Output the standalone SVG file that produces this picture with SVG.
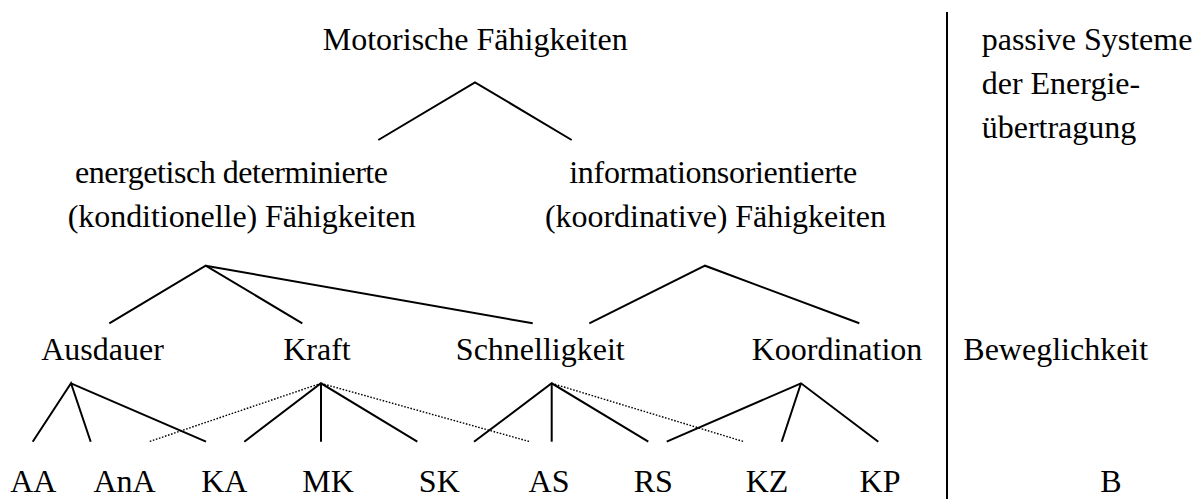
<svg xmlns="http://www.w3.org/2000/svg" width="1197" height="499" viewBox="0 0 1197 499">
  <style>
    text { font-family: "Liberation Serif", "Times New Roman", serif; font-size: 32px; fill: #000; }
    .c { text-anchor: middle; }
    .edge { stroke: #000; stroke-width: 2; fill: none; stroke-linecap: butt; }
    .dot { stroke: #000; stroke-width: 1.4; fill: none; stroke-dasharray: 1.6 1.6; }
  </style>
  <rect width="1197" height="499" fill="#fff"/>

  <!-- tree connectors -->
  <g id="connectors">
    <polyline class="edge" points="378.3,140 475,82.3 571.7,140"/>
    <polyline class="edge" points="109.3,323.3 205.7,265.7 302.3,323.3"/>
    <line class="edge" x1="205.7" y1="265.7" x2="532.7" y2="323.3"/>
    <polyline class="edge" points="589.3,323.3 705,265.7 859.3,323.3"/>

    <polyline class="edge" points="32.7,441.7 71,383.3 90.7,441.7"/>
    <line class="edge" x1="71" y1="383.3" x2="206" y2="441.7"/>

    <polyline class="edge" points="244.3,441.7 321,383.3 417.3,441.7"/>
    <line class="edge" x1="321" y1="383.3" x2="321" y2="441.7"/>
    <line class="dot" x1="321" y1="383.3" x2="149" y2="441.7"/>
    <line class="dot" x1="321" y1="383.3" x2="530" y2="441.7"/>

    <polyline class="edge" points="474,441.7 551.7,383.3 648.3,441.7"/>
    <line class="edge" x1="551.7" y1="383.3" x2="551.7" y2="441.7"/>
    <line class="dot" x1="551.7" y1="383.3" x2="744" y2="441.7"/>

    <polyline class="edge" points="666.7,441.7 801,383.3 878.3,441.7"/>
    <line class="edge" x1="801" y1="383.3" x2="781.7" y2="441.7"/>

    <!-- column divider -->
    <line class="edge" x1="947" y1="12" x2="947" y2="499"/>
  </g>

  <g id="motorische"><text x="322.7" y="50" textLength="305" lengthAdjust="spacing">Motorische Fähigkeiten</text></g>
  <g id="konditionelle">
    <text x="75" y="182.5" textLength="313" lengthAdjust="spacing">energetisch determinierte</text>
    <text x="67.7" y="227" textLength="348" lengthAdjust="spacing">(konditionelle) Fähigkeiten</text>
  </g>
  <g id="koordinative">
    <text x="569.3" y="183" textLength="288" lengthAdjust="spacing">informationsorientierte</text>
    <text x="545" y="227.3" textLength="341" lengthAdjust="spacing">(koordinative) Fähigkeiten</text>
  </g>
  <g id="passive">
    <text x="981.7" y="50">passive Systeme</text>
    <text x="981.7" y="94">der Energie-</text>
    <text x="981.7" y="138.3">übertragung</text>
  </g>

  <g id="ausdauer"><text class="c" x="102.5" y="360">Ausdauer</text></g>
  <g id="kraft"><text class="c" x="317" y="360">Kraft</text></g>
  <g id="schnelligkeit"><text class="c" x="540.3" y="360">Schnelligkeit</text></g>
  <g id="koordination"><text class="c" x="837" y="360">Koordination</text></g>
  <g id="beweglichkeit"><text x="963.3" y="360">Beweglichkeit</text></g>

  <g id="AA"><text class="c" x="33.3" y="491.5">AA</text></g>
  <g id="AnA"><text class="c" x="124.5" y="491.5">AnA</text></g>
  <g id="KA"><text class="c" x="224.3" y="491.5">KA</text></g>
  <g id="MK"><text class="c" x="328" y="491.5">MK</text></g>
  <g id="SK"><text class="c" x="439.3" y="491.5">SK</text></g>
  <g id="AS"><text class="c" x="549" y="491.5">AS</text></g>
  <g id="RS"><text class="c" x="653.3" y="491.5">RS</text></g>
  <g id="KZ"><text class="c" x="767" y="491.5">KZ</text></g>
  <g id="KP"><text class="c" x="880" y="491.5">KP</text></g>
  <g id="B"><text class="c" x="1111" y="491.5">B</text></g>
</svg>
